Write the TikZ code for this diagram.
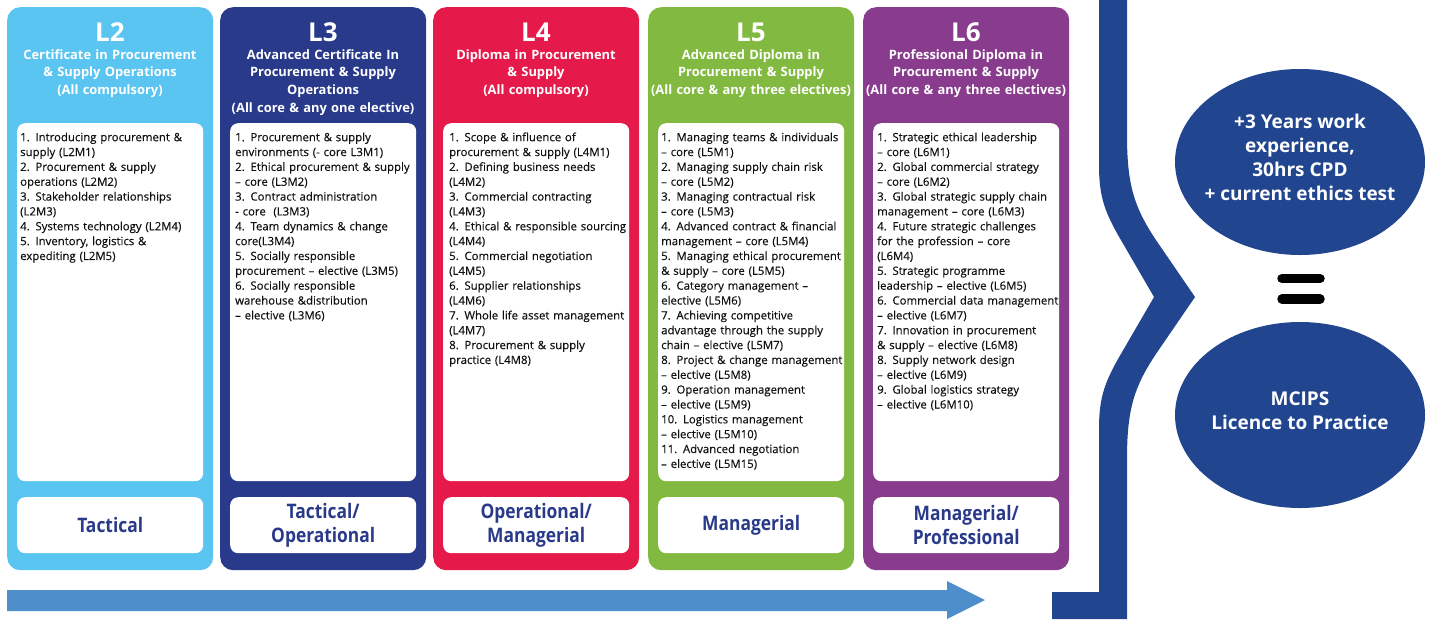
\documentclass[tikz,border=0pt]{standalone}
\usepackage{fontspec}
\usepackage{graphicx}
\setmainfont{Open Sans}
\newfontfamily\bodyfont[FakeBold=0.25]{Open Sans}
\usetikzlibrary{shapes.geometric}
\definecolor{cLtwo}{HTML}{5BC5F2}
\definecolor{cLthree}{HTML}{293A8B}
\definecolor{cLfour}{HTML}{E51A4B}
\definecolor{cLfive}{HTML}{82BA41}
\definecolor{cLsix}{HTML}{893B8E}
\definecolor{labc}{HTML}{2A3A8A}
\definecolor{arrowc}{HTML}{4E8FCB}
\definecolor{bracec}{HTML}{21468F}
\definecolor{bodyc}{HTML}{111111}
\newcommand{\cnd}[1]{\scalebox{0.87}[1]{#1}}
\begin{document}
\begin{tikzpicture}[x=1pt,y=-1pt,
  colbox/.style={fill=#1, rounded corners=13pt, minimum width=206pt, minimum height=563pt, anchor=north west, inner sep=0pt},
  bodybox/.style={fill=white, rounded corners=8pt, minimum width=186pt, minimum height=358pt, anchor=north west, inner sep=0pt},
  labbox/.style={fill=white, rounded corners=8pt, minimum width=186pt, minimum height=56pt, anchor=north west, inner sep=0pt},
  lvl/.style={text=white, font=\bfseries\fontsize{26}{30}\selectfont, anchor=center, inner sep=0pt},
  head/.style={text=white, font=\bfseries\fontsize{12.9}{17.7}\selectfont, text width=212pt, align=center, anchor=north, inner sep=0pt},
  body/.style={text=bodyc, font=\bodyfont\fontsize{11.4}{14.85}\selectfont, text width=195pt, align=left, anchor=north west, inner sep=0pt},
  lab/.style={text=labc, font=\bfseries\fontsize{20}{24}\selectfont, align=center, inner sep=0pt},
  ell/.style={ellipse, fill=bracec, minimum width=250pt, minimum height=186pt, inner sep=0pt},
  etext/.style={text=white, font=\bfseries\fontsize{19}{24}\selectfont, align=center, inner sep=0pt},
  eqbar/.style={line width=9.5pt, line cap=round, draw=black}
]
\useasboundingbox (0,0) rectangle (1434,619);

% ---------- L2 ----------
\node[colbox=cLtwo] (c2) at (7,7) {};
\node[bodybox] (b2) at (17,123) {};
\node[labbox] (t2) at (17,497) {};
\node[lvl] (n2) at (110,32) {L2};
\node[head] (h2) at (110,46.6) {\strut Certificate in Procurement\\ \& Supply Operations\\ (All compulsory)};
\node[body] (m2) at (20,130.6) {\strut 1. Introducing procurement \&\\ supply (L2M1)\\ 2. Procurement \& supply\\ operations (L2M2)\\ 3. Stakeholder relationships\\ (L2M3)\\ 4. Systems technology (L2M4)\\ 5. Inventory, logistics \&\\ expediting (L2M5)};
\node[lab] (l2) at (t2.center) {\cnd{Tactical}};

% ---------- L3 ----------
\node[colbox=cLthree] (c3) at (220,7) {};
\node[bodybox] (b3) at (230,123) {};
\node[labbox] (t3) at (230,497) {};
\node[lvl] (n3) at (323,32) {L3};
\node[head] (h3) at (323,46.6) {\strut Advanced Certificate In\\ Procurement \& Supply\\ Operations\\ (All core \& any one elective)};
\node[body] (m3) at (235,130.6) {\strut 1. Procurement \& supply\\ environments (- core L3M1)\\ 2. Ethical procurement \& supply\\ – core (L3M2)\\ 3. Contract administration\\ - core\ \ (L3M3)\\ 4. Team dynamics \& change\\ core(L3M4)\\ 5. Socially responsible\\ procurement – elective (L3M5)\\ 6. Socially responsible\\ warehouse \&distribution\\ – elective (L3M6)};
\node[lab] (l3) at (t3.center) {\cnd{Tactical/}\\ \cnd{Operational}};

% ---------- L4 ----------
\node[colbox=cLfour] (c4) at (433,7) {};
\node[bodybox] (b4) at (443,123) {};
\node[labbox] (t4) at (443,497) {};
\node[lvl] (n4) at (536,32) {L4};
\node[head] (h4) at (536,46.6) {\strut Diploma in Procurement\\ \& Supply\\ (All compulsory)};
\node[body] (m4) at (449,130.6) {\strut 1. Scope \& influence of\\ procurement \& supply (L4M1)\\ 2. Defining business needs\\ (L4M2)\\ 3. Commercial contracting\\ (L4M3)\\ 4. Ethical \& responsible sourcing\\ (L4M4)\\ 5. Commercial negotiation\\ (L4M5)\\ 6. Supplier relationships\\ (L4M6)\\ 7. Whole life asset management\\ (L4M7)\\ 8. Procurement \& supply\\ practice (L4M8)};
\node[lab] (l4) at (t4.center) {\cnd{Operational/}\\ \cnd{Managerial}};

% ---------- L5 ----------
\node[colbox=cLfive] (c5) at (648,7) {};
\node[bodybox] (b5) at (658,123) {};
\node[labbox] (t5) at (658,497) {};
\node[lvl] (n5) at (751,32) {L5};
\node[head] (h5) at (751,46.6) {\strut Advanced Diploma in\\ Procurement \& Supply\\ (All core \& any three electives)};
\node[body] (m5) at (661,130.6) {\strut 1. Managing teams \& individuals\\ – core (L5M1)\\ 2. Managing supply chain risk\\ – core (L5M2)\\ 3. Managing contractual risk\\ – core (L5M3)\\ 4. Advanced contract \& financial\\ management – core (L5M4)\\ 5. Managing ethical procurement\\ \& supply – core (L5M5)\\ 6. Category management –\\ elective (L5M6)\\ 7. Achieving competitive\\ advantage through the supply\\ chain – elective (L5M7)\\ 8. Project \& change management\\ – elective (L5M8)\\ 9. Operation management\\ – elective (L5M9)\\ 10. Logistics management\\ – elective (L5M10)\\ 11. Advanced negotiation\\ – elective (L5M15)};
\node[lab] (l5) at (t5.center) {\cnd{Managerial}};

% ---------- L6 ----------
\node[colbox=cLsix] (c6) at (863,7) {};
\node[bodybox] (b6) at (873,123) {};
\node[labbox] (t6) at (873,497) {};
\node[lvl] (n6) at (966,32) {L6};
\node[head] (h6) at (966,46.6) {\strut Professional Diploma in\\ Procurement \& Supply\\ (All core \& any three electives)};
\node[body] (m6) at (877,130.6) {\strut 1. Strategic ethical leadership\\ – core (L6M1)\\ 2. Global commercial strategy\\ – core (L6M2)\\ 3. Global strategic supply chain\\ management – core (L6M3)\\ 4. Future strategic challenges\\ for the profession – core\\ (L6M4)\\ 5. Strategic programme\\ leadership – elective (L6M5)\\ 6. Commercial data management\\ – elective (L6M7)\\ 7. Innovation in procurement\\ \& supply – elective (L6M8)\\ 8. Supply network design\\ – elective (L6M9)\\ 9. Global logistics strategy\\ – elective (L6M10)};
\node[lab] (l6) at (t6.center) {\cnd{Managerial/}\\ \cnd{Professional}};

% ---------- progress arrow ----------
\fill[arrowc] (7,590) -- (947,590) -- (947,581) -- (985,600) -- (947,619) -- (947,611) -- (7,611) -- cycle;

% ---------- brace ----------
\fill[bracec] (1099,0) -- (1127,0) -- (1127,135)
  .. controls (1127,185) and (1134,208) .. (1158,243)
  -- (1195,297) -- (1158,351)
  .. controls (1134,386) and (1127,409) .. (1127,459)
  -- (1127,619) -- (1052,619) -- (1052,592) -- (1099,592) -- (1099,429)
  .. controls (1099,399) and (1104,384) .. (1118,359)
  -- (1154,297) -- (1118,235)
  .. controls (1104,210) and (1099,195) .. (1099,165) -- cycle;

% ---------- result ----------
\node[ell] (e1) at (1300,162) {};
\node[etext] (x1) at ([yshift=5pt]e1.center) {+3 Years work\\ experience,\\ 30hrs CPD\\ + current ethics test};
\draw[eqbar] (1282,278.5) -- (1320,278.5);
\draw[eqbar] (1282,299) -- (1320,299);
\node[ell] (e2) at (1300,415) {};
\node[etext] (x2) at ([yshift=4.5pt]e2.center) {MCIPS\\ Licence to Practice};
\end{tikzpicture}
\end{document}
